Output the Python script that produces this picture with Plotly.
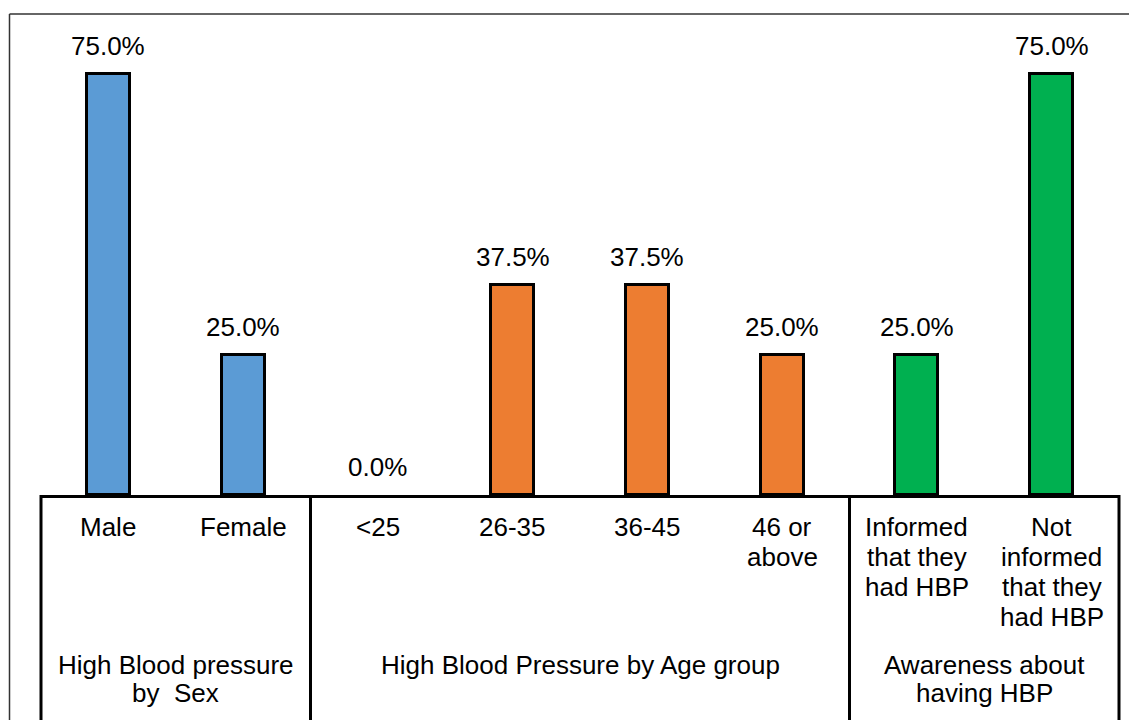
import plotly.graph_objects as go

# ---- data ----
categories = ["Male", "Female", "<25", "26-35", "36-45", "46 or above",
              "Informed that they had HBP", "Not informed that they had HBP"]
tick_lines = [["Male"], ["Female"], ["<25"], ["26-35"], ["36-45"], ["46 or", "above"],
              ["Informed", "that they", "had HBP"],
              ["Not", "informed", "that they", "had HBP"]]
values = [75.0, 25.0, 0.0, 37.5, 37.5, 25.0, 25.0, 75.0]
group_lines = [["High Blood pressure", "by  Sex"],
               ["High Blood Pressure by Age group"],
               ["Awareness about", "having HBP"]]
group_members = [[0, 1], [2, 3, 4, 5], [6, 7]]
group_colors = ["#5B9BD5", "#ED7D31", "#00B050"]

# ---- layout constants (page pixels; page body has an 8px margin) ----
OFF = 8
PW, PH = 1137, 720
W, H = PW - OFF, PH - OFF
PLOT_L, PLOT_R, PLOT_T, PLOT_B = 41, 1119, 46, 495   # page coords of plot area
L, R, T, B = PLOT_L - OFF, PW - PLOT_R, PLOT_T - OFF, PH - PLOT_B
FONT = "Liberation Sans, Arial, sans-serif"
FS = 26
plot_h = PLOT_B - PLOT_T
plot_w = PLOT_R - PLOT_L

def py(page_y):
    return (PLOT_B - page_y) / plot_h

def px(page_x):
    return (page_x - PLOT_L) / plot_w

colors = []
for gi, mem in enumerate(group_members):
    for _ in mem:
        colors.append(group_colors[gi])

x = list(range(len(categories)))

fig = go.Figure()
fig.add_trace(go.Bar(
    x=x, y=values, width=0.32,
    marker=dict(color=colors,
                line=dict(color="black", width=[3 if v > 0 else 0 for v in values])),
    hoverinfo="skip", showlegend=False,
))

txt = dict(family=FONT, size=FS, color="black")
annotations = []
for xi, v in zip(x, values):
    annotations.append(dict(
        x=xi, y=v, xref="x", yref="y", text=f"{v:.1f}%", showarrow=False,
        yanchor="middle", yshift=28, font=txt,
    ))
# category labels, one annotation per line
for xi, lines in zip(x, tick_lines):
    for k, line in enumerate(lines):
        annotations.append(dict(
            x=xi, y=py(527 + 30 * k), xref="x", yref="paper", text=line,
            showarrow=False, yanchor="middle", font=txt,
        ))
# group labels
for lines, mem in zip(group_lines, group_members):
    cx = (mem[0] + mem[-1]) / 2
    for k, line in enumerate(lines):
        annotations.append(dict(
            x=cx, y=py(665 + 28 * k), xref="x", yref="paper", text=line,
            showarrow=False, yanchor="middle", font=txt,
        ))

shapes = []
for mem in group_members[:-1]:
    shapes.append(dict(type="line", xref="x", yref="paper",
                       x0=mem[-1] + 0.5, x1=mem[-1] + 0.5, y0=0, y1=py(PH + 5),
                       line=dict(color="black", width=3)))
for xp in (0, 1):
    shapes.append(dict(type="line", xref="paper", yref="paper",
                       x0=xp, x1=xp, y0=0, y1=py(PH + 5),
                       line=dict(color="black", width=3)))
# chart frame (left and top)
shapes.append(dict(type="line", xref="paper", yref="paper",
                   x0=px(9.5), x1=px(9.5), y0=py(14), y1=py(PH + 5),
                   line=dict(color="#333333", width=1.5)))
shapes.append(dict(type="line", xref="paper", yref="paper",
                   x0=px(9.5), x1=px(PW + 5), y0=py(14), y1=py(14),
                   line=dict(color="#333333", width=1.5)))

fig.update_layout(
    width=W, height=H,
    margin=dict(l=L, r=R, t=T, b=B, autoexpand=False),
    paper_bgcolor="white", plot_bgcolor="white",
    font=txt,
    bargap=0,
    xaxis=dict(
        range=[-0.5, len(categories) - 0.5], tickmode="array", tickvals=x,
        showticklabels=False, showgrid=False, zeroline=False,
        showline=True, linecolor="black", linewidth=3, ticks="", fixedrange=True,
    ),
    yaxis=dict(range=[0, 80], visible=False, showgrid=False, fixedrange=True),
    annotations=annotations, shapes=shapes,
)

fig.write_html("out.html")
